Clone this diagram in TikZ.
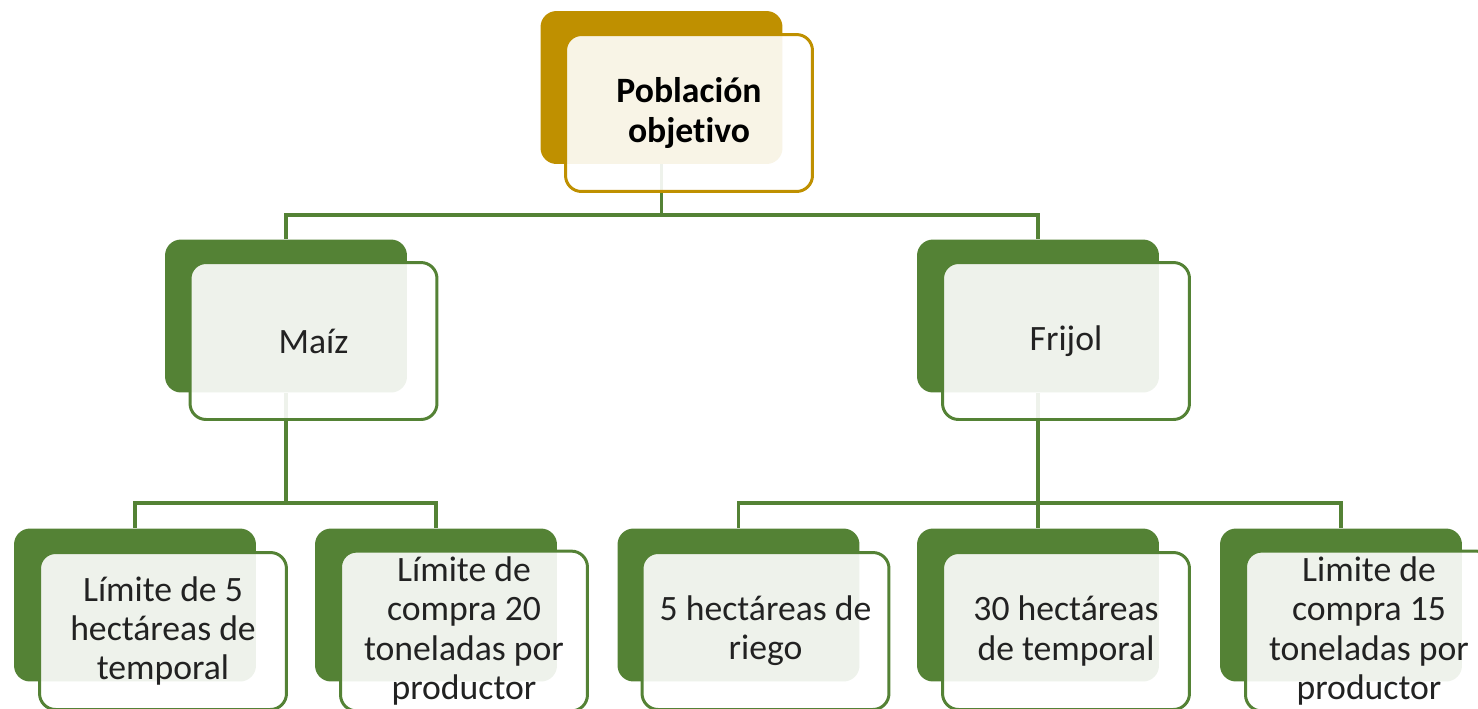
\documentclass[tikz,border=0pt]{standalone}
\usepackage{fontspec}
\setmainfont{Carlito}[Ligatures=NoCommon]
\usetikzlibrary{positioning}
\definecolor{verde}{HTML}{548235}
\definecolor{oro}{HTML}{BF9000}
\definecolor{texto}{HTML}{222222}
\tikzset{
  atras/.style={rounded corners=0.32cm, fill=#1, minimum width=4.84cm, minimum height=3.06cm, inner sep=0pt},
  frente/.style={rounded corners=0.32cm, draw=#1, line width=1.7pt, fill=white, fill opacity=0.9, text opacity=1,
    minimum width=4.94cm, minimum height=3.14cm, align=center, text=texto,
    font=\fontsize{20.3}{22.3}\selectfont},
  conector/.style={draw=verde, line width=1.8pt},
}
\begin{document}
\begin{tikzpicture}[x=0.02cm, y=-0.02cm]
            \useasboundingbox (0,0) rectangle (1478,708);
            \clip (0,0) rectangle (1478,708);
            % cajas de fondo
            \node[atras=oro] (pob) at (661.5,87.5) {};
            \node[atras=verde] (maiz) at (286,316) {};
            \node[atras=verde] (frijol) at (1038,316) {};
            \node[atras=verde] (l1) at (135,605) {};
            \node[atras=verde] (l2) at (436,605) {};
            \node[atras=verde] (l3) at (738.5,605) {};
            \node[atras=verde] (l4) at (1038,605) {};
            \node[atras=verde] (l5) at (1341,605) {};
            % lineas
            \coordinate (bus0) at (661.5,215);
            \coordinate (bus1) at (286,503);
            \coordinate (bus2) at (1038,503);
            \draw[conector] (pob.south) -- (bus0) -| (maiz.north);
            \draw[conector] (bus0) -| (frijol.north);
            \draw[conector] (maiz.south) -- (bus1) -| (l1.north);
            \draw[conector] (bus1) -| (l2.north);
            \draw[conector] (frijol.south) -- (bus2) -| (l3.north);
            \draw[conector] (bus2) -| (l4.north);
            \draw[conector] (bus2) -| (l5.north);
            % cajas con texto
            \node[frente=oro, text=black, font=\fontsize{20.3}{22.3}\selectfont\bfseries] (pobT) at ([shift={(27.5,25.5)}]pob.center) {Población\\objetivo};
            \node[frente=verde] (maizT) at ([shift={(27.5,25)}]maiz.center) {Maíz};
            \node[frente=verde] (frijolT) at ([shift={(28,25)}]frijol.center) {Frijol};
            \node[frente=verde] (l1T) at ([shift={(28,26)}]l1.center) {Límite de 5\\hectáreas de\\temporal};
            \node[frente=verde] (l2T) at ([shift={(28,26)}]l2.center) {Límite de\\compra 20\\toneladas por\\productor};
            \node[frente=verde] (l3T) at ([shift={(27,26)}]l3.center) {5 hectáreas de\\riego};
            \node[frente=verde] (l4T) at ([shift={(28,26)}]l4.center) {30 hectáreas\\de temporal};
            \node[frente=verde] (l5T) at ([shift={(28,26)}]l5.center) {Limite de\\compra 15\\toneladas por\\productor};
\end{tikzpicture}
\end{document}
